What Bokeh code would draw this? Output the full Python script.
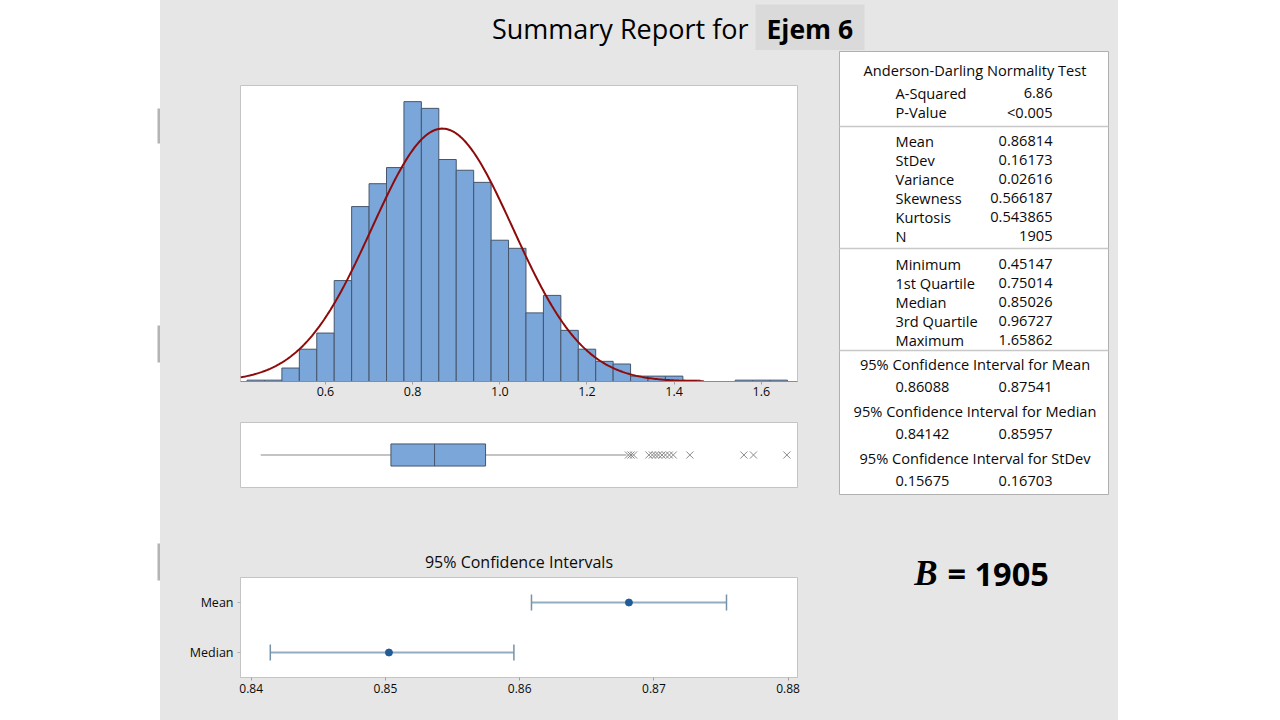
import numpy as np
from bokeh.plotting import figure
from bokeh.layouts import row, column
from bokeh.models import (Range1d, FactorRange, ColumnDataSource, Whisker, TeeHead, Spacer,
                          PrintfTickFormatter)
from bokeh.core.properties import value
from bokeh.embed import file_html
from bokeh.resources import INLINE

# ---------------- data ----------------
VAR_NAME = "Ejem 6"
BIN_LEFT = [0.42, 0.46, 0.50, 0.54, 0.58, 0.62, 0.66, 0.70, 0.74, 0.78, 0.82, 0.86, 0.90, 0.94,
            0.98, 1.02, 1.06, 1.10, 1.14, 1.18, 1.22, 1.26, 1.30, 1.34, 1.38, 1.42, 1.46, 1.50,
            1.54, 1.58, 1.62]
BIN_WIDTH = 0.04
COUNTS = [1, 1, 10, 24, 36, 75, 130, 147, 159, 208, 203, 165, 157, 148,
          105, 99, 51, 64, 38, 24, 15, 13, 4, 4, 4, 1, 0, 0,
          1, 1, 1]
HIST_TICKS = [0.6, 0.8, 1.0, 1.2, 1.4, 1.6]

MEAN = 0.86814
STDEV = 0.16173
N = 1905
MINIMUM = 0.45147
Q1 = 0.75014
MEDIAN = 0.85026
Q3 = 0.96727
MAXIMUM = 1.65862
WHISKER_HIGH = 1.2905
OUTLIERS = [1.295, 1.301, 1.307, 1.342, 1.350, 1.357, 1.364, 1.372, 1.380, 1.389, 1.398,
            1.436, 1.560, 1.582, 1.65862]

CI_NAMES = ["Mean", "Median"]
CI_EST = [0.86814, 0.85026]
CI_LOW = [0.86088, 0.84142]
CI_HIGH = [0.87541, 0.85957]
CI_TICKS = [0.84, 0.85, 0.86, 0.87, 0.88]

AD_LABELS = ["A-Squared", "P-Value"]
AD_VALUES = ["6.86", "<0.005"]
DESC_LABELS = ["Mean", "StDev", "Variance", "Skewness", "Kurtosis", "N"]
DESC_VALUES = ["0.86814", "0.16173", "0.02616", "0.566187", "0.543865", "1905"]
QUANT_LABELS = ["Minimum", "1st Quartile", "Median", "3rd Quartile", "Maximum"]
QUANT_VALUES = ["0.45147", "0.75014", "0.85026", "0.96727", "1.65862"]
TBL_CI_HEADERS = ["95% Confidence Interval for Mean", "95% Confidence Interval for Median",
                  "95% Confidence Interval for StDev"]
TBL_CI_LOW = ["0.86088", "0.84142", "0.15675"]
TBL_CI_HIGH = ["0.87541", "0.85957", "0.16703"]

# ---------------- style ----------------
FONT = "Open Sans"
PANEL = "#e6e6e6"
BAR = "#7ba6d9"
BAR_EDGE = "#46566c"
CURVE = "#8e0b0b"
TXT = "#0a0a0a"


def blank(fig):
    fig.xgrid.visible = False
    fig.ygrid.visible = False
    fig.outline_line_color = None
    fig.border_fill_color = PANEL
    fig.background_fill_color = PANEL
    return fig

# ---- left white strip ----
left = figure(width=160, height=720, x_range=Range1d(0, 160), y_range=Range1d(720, 0),
              x_axis_location=None, y_axis_location=None, toolbar_location=None,
              output_backend="svg", min_border=0)
left.xgrid.visible = False
left.ygrid.visible = False
left.outline_line_color = None
left.background_fill_color = "white"
left.border_fill_color = "white"
left.quad(left=[157, 157, 157], right=[160, 160, 160], top=[108, 325, 543], bottom=[143, 362, 580],
          fill_color="#b4b4b4", line_color=None)

# ---- title strip ----
title = figure(width=958, height=50, x_range=Range1d(160, 1118), y_range=Range1d(50, 0),
               x_axis_location=None, y_axis_location=None, toolbar_location=None,
               output_backend="svg", min_border=0)
blank(title)
title.quad(left=[755], right=[864], top=[4], bottom=[50], fill_color="#dadada", line_color=None)
title.text(x=[748], y=[28], text=["Summary Report for"], text_font=value(FONT),
           text_font_size="27px", text_align="right", text_baseline="middle", text_color="black")
title.text(x=[766], y=[28], text=[VAR_NAME], text_font=value(FONT), text_font_style="bold",
           text_font_size="26.5px", text_align="left", text_baseline="middle", text_color="black")

# ---- histogram ----
xr = Range1d(0.405, 1.683)
hist = figure(width=678, height=355, x_range=xr, y_range=Range1d(0, 220),
              y_axis_location=None, toolbar_location=None, output_backend="svg",
              min_border_left=80, min_border_right=41, min_border_top=35, min_border_bottom=24)
hist.xgrid.visible = False
hist.ygrid.visible = False
hist.border_fill_color = PANEL
hist.background_fill_color = "white"
hist.outline_line_color = "#c4c4c4"
lefts = np.array(BIN_LEFT)
hist.quad(left=lefts, right=lefts + BIN_WIDTH, bottom=0, top=COUNTS,
          fill_color=BAR, line_color=BAR_EDGE, line_width=1)
xs = np.linspace(0.405, 1.468, 300)
ys = N * BIN_WIDTH * np.exp(-0.5 * ((xs - MEAN) / STDEV) ** 2) / (STDEV * np.sqrt(2 * np.pi))
hist.line(xs, ys, line_color=CURVE, line_width=2)
ax = hist.xaxis[0]
ax.ticker = HIST_TICKS
ax.formatter = PrintfTickFormatter(format="%.1f")
ax.minor_tick_line_color = None
ax.major_tick_out = 3
ax.major_tick_in = 0
ax.major_tick_line_color = "#a0a0a0"
ax.axis_line_color = "#8c8c8c"
ax.major_label_standoff = 2
ax.major_label_text_font = FONT
ax.major_label_text_font_size = "12.5px"
ax.major_label_text_color = TXT

# ---- boxplot ----
box = figure(width=678, height=95, x_range=xr, y_range=Range1d(0, 1),
             x_axis_location=None, y_axis_location=None, toolbar_location=None,
             output_backend="svg", min_border_left=80, min_border_right=41,
             min_border_top=17, min_border_bottom=13)
box.xgrid.visible = False
box.ygrid.visible = False
box.border_fill_color = PANEL
box.background_fill_color = "white"
box.outline_line_color = "#c4c4c4"
box.segment(x0=[MINIMUM, Q3], y0=[0.5, 0.5], x1=[Q1, WHISKER_HIGH], y1=[0.5, 0.5],
            line_color="#c4c4c4", line_width=2)
box.quad(left=[Q1], right=[Q3], bottom=[0.33], top=[0.67], fill_color=BAR, line_color=BAR_EDGE)
box.segment(x0=[MEDIAN], y0=[0.33], x1=[MEDIAN], y1=[0.67], line_color=BAR_EDGE, line_width=1)
box.scatter(x=OUTLIERS, y=[0.5] * len(OUTLIERS), marker="x", size=10,
            line_color="#8a8a8a", line_width=1)

# ---- confidence intervals ----
ci = figure(width=678, height=220, x_range=Range1d(0.8392, 0.8807),
            y_range=FactorRange(*CI_NAMES[::-1]), toolbar_location=None, output_backend="svg",
            min_border_left=80, min_border_right=41, min_border_top=77, min_border_bottom=43,
            title="95% Confidence Intervals")
ci.xgrid.visible = False
ci.ygrid.visible = False
ci.border_fill_color = PANEL
ci.background_fill_color = "white"
ci.outline_line_color = "#c4c4c4"
ci.title.align = "center"
ci.title.text_font = FONT
ci.title.text_font_size = "16px"
ci.title.text_font_style = "normal"
ci.title.text_color = TXT
ci.title.standoff = 10
src = ColumnDataSource(dict(cat=CI_NAMES, lo=CI_LOW, hi=CI_HIGH, est=CI_EST))
ci.add_layout(Whisker(source=src, base="cat", lower="lo", upper="hi", dimension="width",
                      line_color="#93adc0", line_width=2,
                      lower_head=TeeHead(size=16, line_color="#7592a8", line_width=1.5),
                      upper_head=TeeHead(size=16, line_color="#7592a8", line_width=1.5)))
ci.scatter(x="est", y="cat", source=src, size=7, fill_color="#1f5c99", line_color="#1f5c99")
cx = ci.xaxis[0]
cx.ticker = CI_TICKS
cx.minor_tick_line_color = None
cx.major_tick_out = 3
cx.major_tick_in = 0
cx.major_tick_line_color = "#a0a0a0"
cx.axis_line_color = "#c4c4c4"
cx.major_label_standoff = 3
cx.major_label_text_font = FONT
cx.major_label_text_font_size = "12px"
cx.major_label_text_color = TXT
cy = ci.yaxis[0]
cy.major_tick_out = 3
cy.major_tick_in = 0
cy.major_tick_line_color = "#b0b0b0"
cy.axis_line_color = "#c4c4c4"
cy.major_label_standoff = 4
cy.major_label_text_font = FONT
cy.major_label_text_font_size = "12.5px"
cy.major_label_text_color = TXT

# ---- right table ----
tbl = figure(width=280, height=670, x_range=Range1d(838, 1118), y_range=Range1d(720, 50),
             x_axis_location=None, y_axis_location=None, toolbar_location=None,
             output_backend="svg", min_border=0)
blank(tbl)
tbl.quad(left=[839], right=[1108], top=[51], bottom=[494], fill_color="white", line_color="#b0b0b0")
tbl.segment(x0=[839, 839, 839], x1=[1108, 1108, 1108], y0=[126, 248, 350], y1=[126, 248, 350],
            line_color="#c8c8c8", line_width=1.5)
FS = "14.6px"
LX, RX, CX = 895, 1052, 974.5


def tx(x, y, t, align):
    tbl.text(x=x, y=y, text=t, text_font=value(FONT), text_font_size=FS, text_align=align,
             text_baseline="middle", text_color=TXT)


tx([CX], [69], ["Anderson-Darling Normality Test"], "center")
lab_rows = AD_LABELS + DESC_LABELS + QUANT_LABELS
val_rows = AD_VALUES + DESC_VALUES + QUANT_VALUES
ys_rows = [92, 111, 140, 159, 178, 197, 216, 235, 263, 282, 301, 320, 339]
tx([LX] * len(lab_rows), ys_rows, lab_rows, "left")
tx([RX] * len(val_rows), ys_rows, val_rows, "right")
tx([CX] * 3, [363, 410, 457], TBL_CI_HEADERS, "center")
tx([LX] * 3, [386, 433, 480], TBL_CI_LOW, "left")
tx([RX] * 3, [386, 433, 480], TBL_CI_HIGH, "right")

tbl.text(x=[937], y=[573], text=["B"], text_font=value("Liberation Serif"), text_font_style="bold italic",
         text_font_size="35px", text_align="right", text_baseline="middle", text_color="black")
tbl.text(x=[947], y=[573], text=["= " + str(N)], text_font=value(FONT), text_font_style="bold",
         text_font_size="32.5px", text_align="left", text_baseline="middle", text_color="black")

right_white = Spacer(width=162, height=720)
inner = row(column(hist, box, ci, styles={"background-color": PANEL}), tbl,
            styles={"background-color": PANEL})
panel = column(title, inner, styles={"background-color": PANEL})
layout = row(left, panel, right_white)

open("out.html", "w").write(file_html(layout, INLINE))
